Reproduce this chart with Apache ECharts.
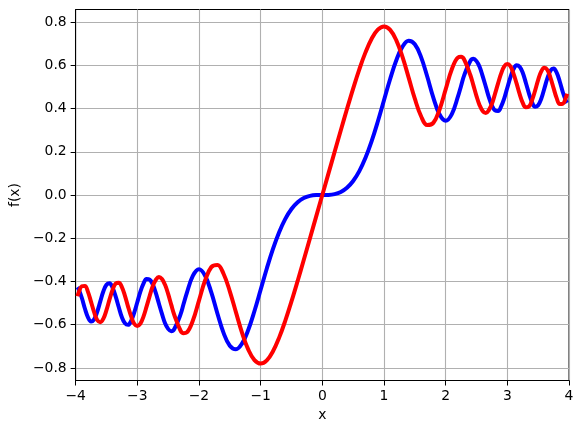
<!DOCTYPE html>
<html>
<head>
<meta charset="utf-8">
<script src="https://cdn.jsdelivr.net/npm/echarts@6/dist/echarts.min.js"></script>
<style>
html,body{margin:0;padding:0;background:#fff;}
#chart{width:583px;height:432px;}
</style>
</head>
<body>
<div id="chart"></div>
<script>
const xValues = [-3.97,-3.95,-3.9,-3.85,-3.8,-3.75,-3.7,-3.65,-3.6,-3.55,-3.5,-3.45,-3.4,-3.35,-3.3,-3.25,-3.2,-3.15,-3.1,-3.05,-3.0,-2.95,-2.9,-2.85,-2.8,-2.75,-2.7,-2.65,-2.6,-2.55,-2.5,-2.45,-2.4,-2.3,-2.25,-2.2,-2.1,-2.0,-1.9,-1.8,-1.7,-1.6,-1.5,-1.4,-1.3,-1.2,-1.1,-1.0,-0.9,-0.8,-0.7,-0.6,-0.5,-0.4,-0.3,-0.2,-0.1,0,0.1,0.2,0.3,0.4,0.5,0.6,0.7,0.8,0.9,1.0,1.1,1.2,1.3,1.4,1.5,1.6,1.7,1.8,1.9,2.0,2.1,2.2,2.25,2.3,2.4,2.45,2.5,2.55,2.6,2.65,2.7,2.75,2.8,2.85,2.9,2.95,3.0,3.05,3.1,3.15,3.2,3.25,3.3,3.35,3.4,3.45,3.5,3.55,3.6,3.65,3.7,3.75,3.8,3.85,3.9,3.95,3.97];

const blueValues = [-0.4258,-0.4355,-0.4752,-0.5250,-0.5656,-0.5852,-0.5750,-0.5404,-0.4923,-0.4450,-0.4153,-0.4086,-0.4297,-0.4703,-0.5193,-0.5654,-0.5934,-0.6007,-0.5818,-0.5444,-0.4963,-0.4469,-0.4101,-0.3885,-0.3915,-0.4134,-0.4529,-0.5019,-0.5500,-0.5934,-0.6192,-0.6300,-0.6197,-0.5532,-0.5044,-0.4557,-0.3743,-0.3434,-0.3733,-0.4509,-0.5492,-0.6389,-0.6975,-0.7135,-0.6863,-0.6234,-0.5365,-0.4383,-0.3398,-0.2493,-0.1721,-0.1105,-0.0647,-0.0334,-0.0141,-0.0042,-0.0005,0,0.0005,0.0042,0.0141,0.0334,0.0647,0.1105,0.1721,0.2493,0.3398,0.4383,0.5365,0.6234,0.6863,0.7135,0.6975,0.6389,0.5492,0.4509,0.3733,0.3434,0.3743,0.4557,0.5044,0.5532,0.6197,0.6300,0.6192,0.5934,0.5500,0.5019,0.4529,0.4134,0.3915,0.3885,0.4101,0.4469,0.4963,0.5444,0.5818,0.6007,0.5934,0.5654,0.5193,0.4703,0.4297,0.4086,0.4153,0.4450,0.4923,0.5404,0.5750,0.5852,0.5656,0.5250,0.4752,0.4355,0.4258];

const redValues = [-0.4686,-0.4510,-0.4223,-0.4207,-0.4481,-0.4940,-0.5420,-0.5780,-0.5880,-0.5716,-0.5326,-0.4829,-0.4385,-0.4089,-0.4057,-0.4259,-0.4663,-0.5162,-0.5616,-0.5955,-0.6057,-0.5951,-0.5624,-0.5165,-0.4675,-0.4217,-0.3925,-0.3789,-0.3889,-0.4156,-0.4574,-0.5071,-0.5550,-0.6266,-0.6390,-0.6363,-0.5816,-0.4883,-0.3945,-0.3336,-0.3238,-0.3655,-0.4453,-0.5431,-0.6386,-0.7154,-0.7638,-0.7799,-0.7648,-0.7228,-0.6597,-0.5811,-0.4923,-0.3975,-0.2994,-0.1999,-0.1000,0,0.1000,0.1999,0.2994,0.3975,0.4923,0.5811,0.6597,0.7228,0.7648,0.7799,0.7638,0.7154,0.6386,0.5431,0.4453,0.3655,0.3238,0.3336,0.3945,0.4883,0.5816,0.6363,0.6390,0.6266,0.5550,0.5071,0.4574,0.4156,0.3889,0.3789,0.3925,0.4217,0.4675,0.5165,0.5624,0.5951,0.6057,0.5955,0.5616,0.5162,0.4663,0.4259,0.4057,0.4089,0.4385,0.4829,0.5326,0.5716,0.5880,0.5780,0.5420,0.4940,0.4481,0.4207,0.4223,0.4510,0.4686];

const xTicks = [-4,-3,-2,-1,0,1,2,3,4];
const yTicks = [-0.8,-0.6,-0.4,-0.2,0,0.2,0.4,0.6,0.8];

const FONT = 'DejaVu Sans';
const fmtMinus = s => s.replace('-', '\u2212');

const chart = echarts.init(document.getElementById('chart'), null, {renderer: 'canvas'});
chart.setOption({
  animation: false,
  backgroundColor: '#ffffff',
  grid: {left: 73, right: 14, top: 9.5, bottom: 51.5, show: true, borderColor: '#000', borderWidth: 1, backgroundColor: 'transparent'},
  xAxis: {
    type: 'value', min: -4, max: 4, interval: 1,
    name: 'x', nameLocation: 'middle', nameGap: 27,
    nameTextStyle: {fontFamily: FONT, fontSize: 13.9, color: '#000'},
    axisLine: {show: true, onZero: false, lineStyle: {color: '#000', width: 1}},
    axisTick: {show: true, inside: false, length: 5, customValues: xTicks, lineStyle: {color: '#000', width: 1}},
    axisLabel: {fontFamily: FONT, fontSize: 13.9, color: '#000', margin: 9, customValues: xTicks, formatter: v => fmtMinus(String(v))},
    splitLine: {show: true, lineStyle: {color: '#b0b0b0', width: 1.1}}
  },
  yAxis: {
    type: 'value', min: -0.858, max: 0.858, splitNumber: 8,
    name: 'f(x)', nameLocation: 'middle', nameGap: 45,
    nameTextStyle: {fontFamily: FONT, fontSize: 13.9, color: '#000'},
    axisLine: {show: true, onZero: false, lineStyle: {color: '#000', width: 1}},
    axisTick: {show: true, inside: false, length: 5, customValues: yTicks, lineStyle: {color: '#000', width: 1}},
    axisLabel: {fontFamily: FONT, fontSize: 13.9, color: '#000', margin: 9, customValues: yTicks,
      formatter: v => fmtMinus(v.toFixed(1))},
    splitLine: {show: true, lineStyle: {color: '#b0b0b0', width: 1.1}}
  },
  series: [
    {type: 'line', data: xValues.map((x, i) => [x, blueValues[i]]), showSymbol: false, smooth: 0.4,
     lineStyle: {color: '#0000ff', width: 4}, itemStyle: {color: '#0000ff'}, z: 3},
    {type: 'line', data: xValues.map((x, i) => [x, redValues[i]]), showSymbol: false, smooth: 0.4,
     lineStyle: {color: '#ff0000', width: 4}, itemStyle: {color: '#ff0000'}, z: 4}
  ]
});
</script>
</body>
</html>
